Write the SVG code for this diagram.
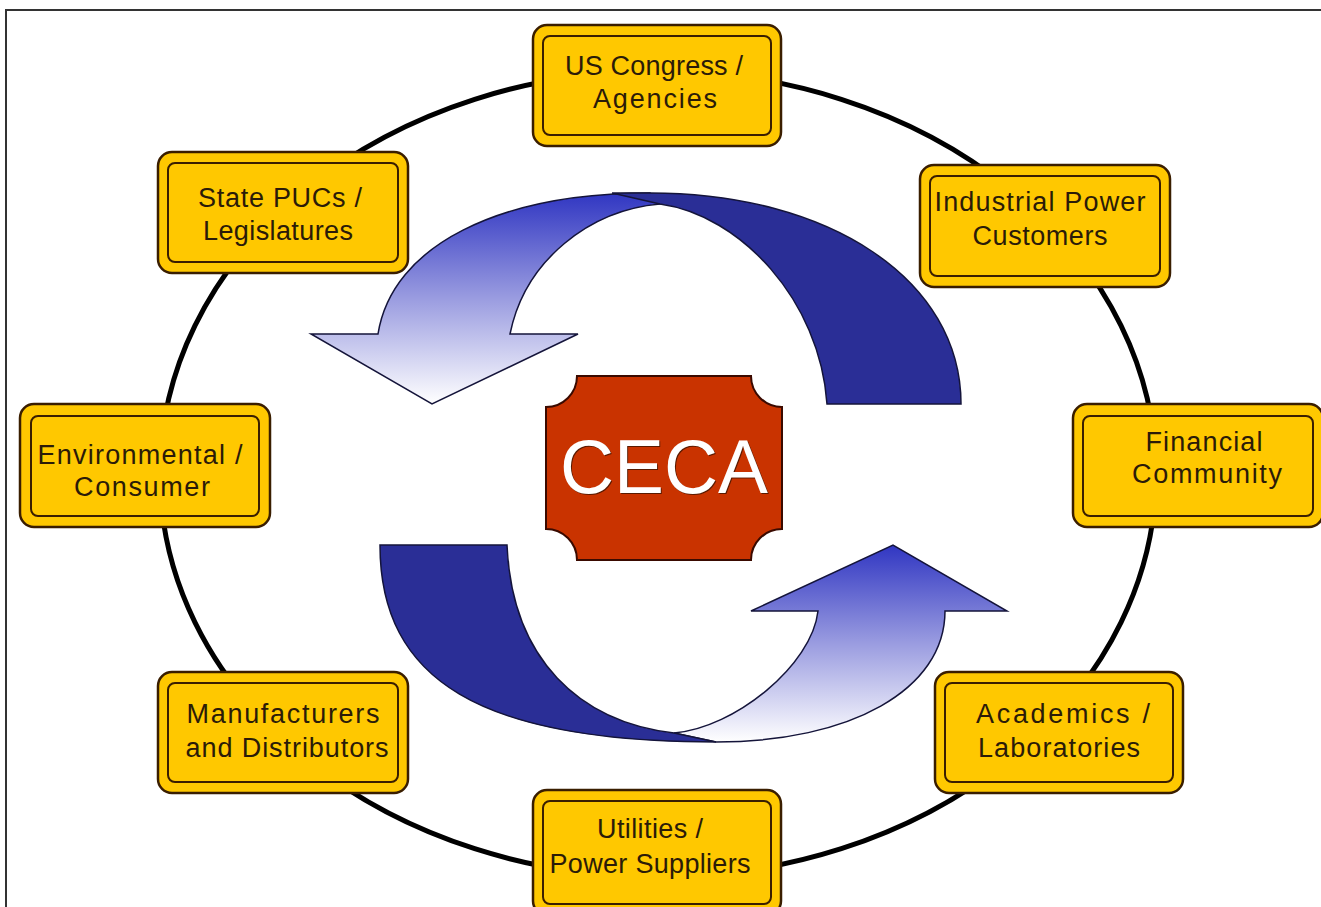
<svg xmlns="http://www.w3.org/2000/svg" width="1321" height="907" viewBox="0 0 1321 907">
<defs>
<style>
.box-outer{fill:#FFC800;stroke:#3a1e00;stroke-width:2.5}
.box-inner{fill:none;stroke:#3a1e00;stroke-width:2}
.lbl{font-family:"Liberation Sans",Arial,sans-serif;font-size:27px;fill:#2b1b08;text-anchor:middle}
.ring{fill:none;stroke:#000;stroke-width:5}
.dark{fill:#2a2e96;stroke:#14143a;stroke-width:1.5}
.grad{fill:url(#blueFade);stroke:#14143a;stroke-width:1.5}
</style>
<linearGradient id="blueFade" x1="0" y1="0" x2="0" y2="1">
<stop offset="0" stop-color="#3036c2"/>
<stop offset="0.5" stop-color="#9a9ce0"/>
<stop offset="1" stop-color="#ffffff"/>
</linearGradient>
</defs>
<rect x="0" y="0" width="1321" height="907" fill="#ffffff"/>
<path d="M6,907 V10 H1321" fill="none" stroke="#333" stroke-width="2"/>

<g id="connectors">
<ellipse class="ring" cx="658" cy="474" rx="498" ry="403"/>
</g>

<g id="cycle-arrows">
<path class="grad" d="M378,334 C392,245 500,193 650,193 L660,204 C590,210 525,260 510,334 L578,334 L432,404 L311,334 Z"/>
<path class="dark" d="M612,193 H650 C830,193 961,280 961,404 H827 C820,300 740,215 660,204 Z"/>
<path class="grad" d="M945,611 C945,690 850,742 716,742 L674,733 C735,728 812,665 818,611 L751,611 L893,545 L1007,611 Z"/>
<path class="dark" d="M380,545 H507 C512,660 580,722 674,733 L716,742 C480,742 380,680 380,545 Z"/>
</g>

<g id="ceca">
<path d="M577,376 H751 A31,31 0 0 0 782,407 V529 A31,31 0 0 0 751,560 H577 A31,31 0 0 0 546,529 V407 A31,31 0 0 0 577,376 Z" fill="#c93300" stroke="#3a0a00" stroke-width="2"/>
<text x="665" y="494" text-anchor="middle" font-family="'Liberation Sans',Arial,sans-serif" font-size="76" fill="#5a1a00" textLength="208" lengthAdjust="spacingAndGlyphs">CECA</text>
<text x="664" y="493" text-anchor="middle" font-family="'Liberation Sans',Arial,sans-serif" font-size="76" fill="#ffffff" textLength="208" lengthAdjust="spacingAndGlyphs">CECA</text>
</g>

<g id="us-congress">
<rect class="box-outer" x="533" y="25" width="248" height="121" rx="14"/>
<rect class="box-inner" x="543" y="36" width="228" height="99" rx="7"/>
<text class="lbl" x="654" y="75" textLength="178">US Congress /</text>
<text class="lbl" x="655" y="108" textLength="124">Agencies</text>
</g>

<g id="state-pucs">
<rect class="box-outer" x="158" y="152" width="250" height="121" rx="14"/>
<rect class="box-inner" x="168" y="163" width="230" height="99" rx="7"/>
<text class="lbl" x="280" y="207" textLength="164">State PUCs /</text>
<text class="lbl" x="278" y="240" textLength="150">Legislatures</text>
</g>

<g id="industrial">
<rect class="box-outer" x="920" y="165" width="250" height="122" rx="14"/>
<rect class="box-inner" x="930" y="176" width="230" height="100" rx="7"/>
<text class="lbl" x="1040" y="211" textLength="211">Industrial Power</text>
<text class="lbl" x="1040" y="245" textLength="135">Customers</text>
</g>

<g id="environmental">
<rect class="box-outer" x="20" y="404" width="250" height="123" rx="14"/>
<rect class="box-inner" x="31" y="416" width="228" height="100" rx="7"/>
<text class="lbl" x="140" y="464" textLength="205">Environmental /</text>
<text class="lbl" x="142" y="496" textLength="136">Consumer</text>
</g>

<g id="financial">
<rect class="box-outer" x="1073" y="404" width="250" height="123" rx="14"/>
<rect class="box-inner" x="1083" y="416" width="230" height="100" rx="7"/>
<text class="lbl" x="1204" y="451" textLength="117">Financial</text>
<text class="lbl" x="1207" y="483" textLength="150">Community</text>
</g>

<g id="manufacturers">
<rect class="box-outer" x="158" y="672" width="250" height="121" rx="14"/>
<rect class="box-inner" x="168" y="683" width="230" height="99" rx="7"/>
<text class="lbl" x="283" y="723" textLength="193">Manufacturers</text>
<text class="lbl" x="287" y="757" textLength="203">and Distributors</text>
</g>

<g id="academics">
<rect class="box-outer" x="935" y="672" width="248" height="121" rx="14"/>
<rect class="box-inner" x="945" y="683" width="228" height="99" rx="7"/>
<text class="lbl" x="1063" y="723" textLength="174">Academics /</text>
<text class="lbl" x="1059" y="757" textLength="162">Laboratories</text>
</g>

<g id="utilities">
<rect class="box-outer" x="533" y="790" width="248" height="125" rx="14"/>
<rect class="box-inner" x="543" y="801" width="228" height="103" rx="7"/>
<text class="lbl" x="650" y="838" textLength="106">Utilities /</text>
<text class="lbl" x="650" y="873" textLength="201">Power Suppliers</text>
</g>
</svg>
